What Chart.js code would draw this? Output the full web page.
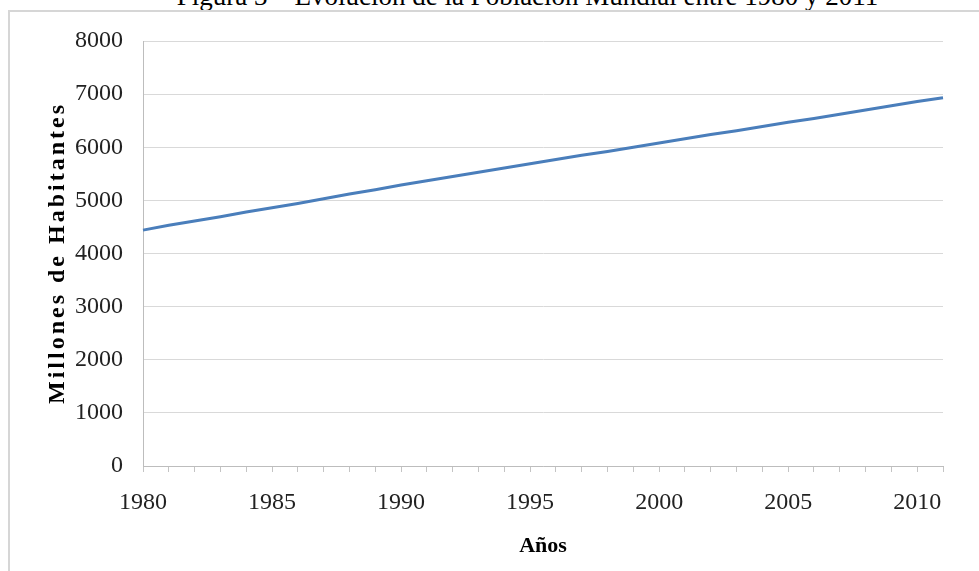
<!DOCTYPE html>
<html lang="es">
<head>
<meta charset="utf-8">
<title>Población Mundial 1980-2011</title>
<script src="https://cdn.jsdelivr.net/npm/chart.js@4/dist/chart.umd.min.js"></script>
<style>
  html, body { margin: 0; padding: 0; background: #fff; }
  body { width: 979px; height: 571px; position: relative; overflow: hidden; }
  #caption {
    position: absolute; left: 38px; width: 979px; top: -17px;
    text-align: center; font: 27px/27px "Liberation Serif", "Times New Roman", serif;
    color: #000; white-space: nowrap;
  }
  #frame {
    position: absolute; left: 8px; top: 10px; width: 990px; height: 600px;
    border-top: 2px solid #d6d6d6; border-left: 2px solid #d6d6d6;
  }
  #wrap { position: absolute; left: 0; top: 0; width: 979px; height: 571px; }
</style>
</head>
<body>
<div id="caption">Figura 3 – Evolución de la Población Mundial entre 1980 y 2011</div>
<div id="frame"></div>
<div id="wrap"><canvas id="chart" width="979" height="571"></canvas></div>
<script>
// World population, millions of inhabitants, 1980-2011
const years = ['1980','1981','1982','1983','1984','1985','1986','1987','1988','1989',
               '1990','1991','1992','1993','1994','1995','1996','1997','1998','1999',
               '2000','2001','2002','2003','2004','2005','2006','2007','2008','2009',
               '2010','2011'];
const population = [4440, 4530, 4610, 4690, 4780, 4860, 4940, 5030, 5120, 5200,
                    5290, 5370, 5450, 5530, 5610, 5690, 5770, 5850, 5920, 6000,
                    6080, 6160, 6240, 6310, 6390, 6470, 6540, 6620, 6700, 6780,
                    6860, 6930];
const xTickLabels = ['1980','1985','1990','1995','2000','2005','2010'];
const yTickValues = [0, 1000, 2000, 3000, 4000, 5000, 6000, 7000, 8000];
const xTitle = 'Años';
const yTitle = 'Millones de Habitantes';

const serif = '"Liberation Serif", "Times New Roman", serif';

// vertical axis title, drawn with a little letter spacing
const yTitlePlugin = {
  id: 'yTitleSpaced',
  afterDraw(chart) {
    const { ctx, chartArea } = chart;
    ctx.save();
    ctx.translate(57.5, (chartArea.top + chartArea.bottom) / 2 + 1);
    ctx.rotate(-Math.PI / 2);
    ctx.font = 'bold 24px ' + serif;
    if ('letterSpacing' in ctx) ctx.letterSpacing = '3px';
    ctx.textAlign = 'center';
    ctx.textBaseline = 'middle';
    ctx.fillStyle = '#000';
    ctx.fillText(yTitle, 1.5, 0);
    ctx.restore();
  }
};

new Chart(document.getElementById('chart'), {
  type: 'line',
  data: {
    labels: years,
    datasets: [{
      data: population,
      borderColor: '#4a7ebb',
      borderWidth: 3,
      pointRadius: 0,
      tension: 0,
      fill: false
    }]
  },
  plugins: [yTitlePlugin],
  options: {
    responsive: false,
    animation: false,
    events: [],
    layout: { padding: { top: 41, right: 36, bottom: 0, left: 0 } },
    plugins: { legend: { display: false }, tooltip: { enabled: false }, title: { display: false } },
    scales: {
      x: {
        type: 'category',
        offset: false,
        afterFit(scale) { scale.height = 105; },
        grid: { display: true, drawOnChartArea: false, drawTicks: true, tickLength: 6, color: '#c4c4c4', lineWidth: 1 },
        border: { display: true, color: '#bdbdbd', width: 1 },
        ticks: {
          autoSkip: false, maxRotation: 0, minRotation: 0, padding: 16,
          color: '#222', font: { family: serif, size: 24 },
          callback(value) {
            const lab = this.getLabelForValue(value);
            return xTickLabels.includes(lab) ? lab : '';
          }
        },
        title: {
          display: true, text: xTitle, color: '#000',
          font: { family: serif, size: 22, weight: 'bold' },
          padding: { top: 0, bottom: 11 }
        }
      },
      y: {
        min: yTickValues[0],
        max: yTickValues[yTickValues.length - 1],
        afterFit(scale) { scale.width = 143; },
        afterBuildTicks(scale) { scale.ticks = yTickValues.map(v => ({ value: v })); },
        grid: { color: '#d9d9d9', lineWidth: 1, drawTicks: false },
        border: { display: true, color: '#bdbdbd', width: 1 },
        ticks: {
          padding: 20, color: '#222',
          font: { family: serif, size: 24 },
          callback: v => String(v)
        },
        title: { display: false }
      }
    }
  }
});
</script>
</body>
</html>
